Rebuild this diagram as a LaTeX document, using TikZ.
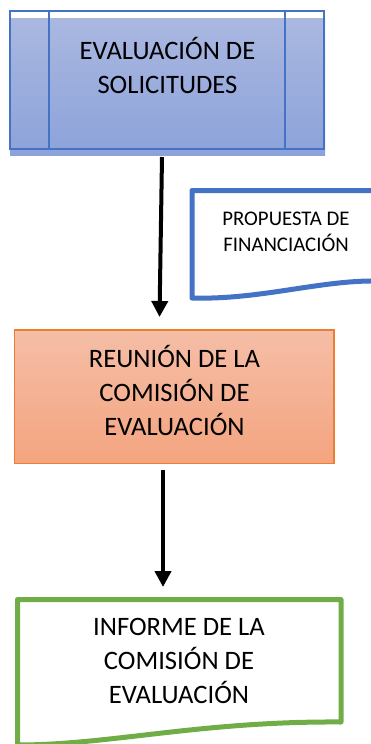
\documentclass[tikz,border=0pt]{standalone}
\usepackage{fontspec}
\setmainfont{Carlito}
\usetikzlibrary{arrows.meta}
\definecolor{bluebd}{HTML}{4472C4}
\definecolor{bluetop}{HTML}{AAB8E1}
\definecolor{bluebot}{HTML}{8CA2D9}
\definecolor{orbd}{HTML}{ED7D31}
\definecolor{ortop}{HTML}{F5BEA7}
\definecolor{orbot}{HTML}{F4A47F}
\definecolor{grbd}{HTML}{70AD47}
\tikzset{
 lbl/.style={align=center, anchor=base, inner sep=0pt, text=black, font=\fontsize{26.6}{34}\selectfont},
 lblsmall/.style={lbl, font=\fontsize{20.8}{26.7}\selectfont},
 flow/.style={line width=4pt, -{Triangle[width=16pt,length=16pt]}},
 docline/.style={line width=5pt, line join=round},
}
\begin{document}
\begin{tikzpicture}[x=1pt,y=-1pt]
\useasboundingbox (0,0) rectangle (371,744);
% top box (predefined process)
\shade[top color=bluetop,bottom color=bluebot] (10,18) rectangle (325,155.5);
\draw[bluebd, line width=2pt] (10.2,10.8) rectangle (324.3,148.7);
\draw[bluebd, line width=2pt] (49,10.8) -- (49,148.7) (285,10.8) -- (285,148.7);
\node[lbl] (t1) at (167.5,93.5) {EVALUACIÓN DE\\SOLICITUDES};
% orange box
\shadedraw[top color=ortop,bottom color=orbot,draw=orbd,line width=1.5pt] (14.7,330) rectangle (334,463.3);
\node[lbl] (t2) at (174.5,435) {REUNIÓN DE LA\\COMISIÓN DE\\EVALUACIÓN};
% blue document
\draw[bluebd,docline,fill=white] (192,298) -- (192,190.5) -- (378,190.5) -- (378,281) .. controls (320,280) and (260,300) .. (192,298) -- cycle;
\node[lblsmall] (t3) at (286,251.7) {PROPUESTA DE\\FINANCIACIÓN};
% green document
\draw[grbd,docline] (17.5,745) -- (17.5,599.5) -- (341,599.5) -- (341,722) .. controls (200,721) and (110,745) .. (17.5,745) -- cycle;
\node[lbl] (t4) at (179,703.5) {INFORME DE LA\\COMISIÓN DE\\EVALUACIÓN};
% arrows
\coordinate (a1s) at (162,157);
\coordinate (a1e) at (159.5,317);
\draw[flow] (a1s) -- (a1e);
\coordinate (a2s) at (163,470);
\coordinate (a2e) at (163,587);
\draw[flow] (a2s) -- (a2e);
\end{tikzpicture}
\end{document}
